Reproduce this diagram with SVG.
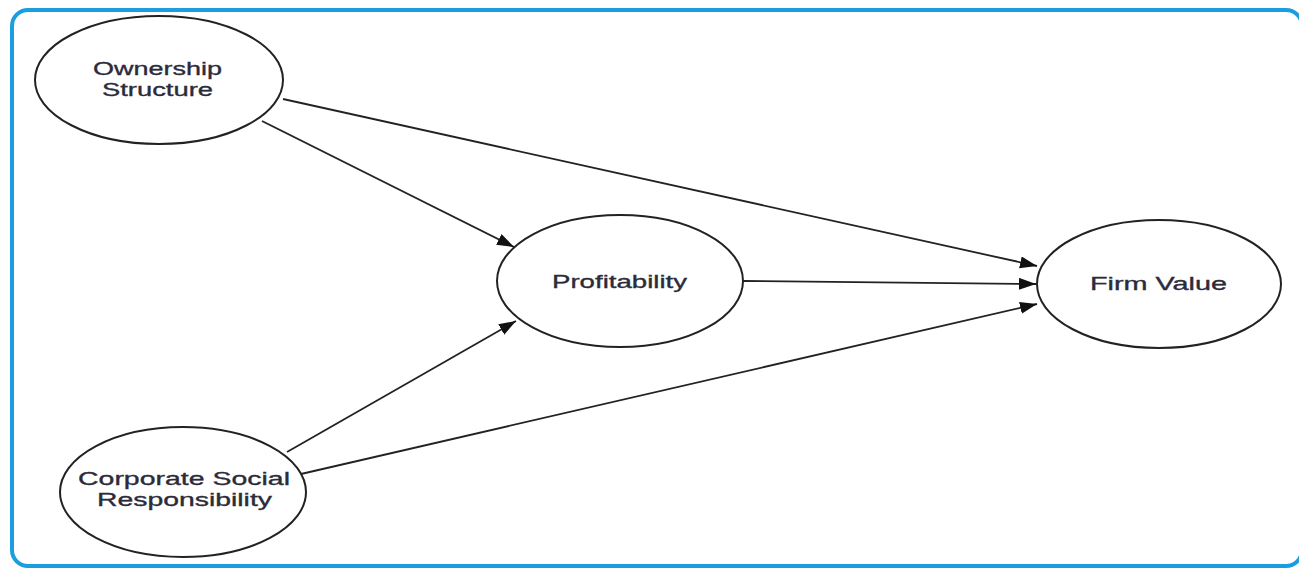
<svg xmlns="http://www.w3.org/2000/svg" width="1299" height="568" viewBox="0 0 1299 568">
<style>
.node ellipse{fill:#fff;stroke:#222;stroke-width:2}
.node text{font-family:"Liberation Sans",Arial,sans-serif;font-size:19px;fill:#2b2b3a;stroke:#2b2b3a;stroke-width:0.35;text-anchor:start}
.edges line{stroke:#222;stroke-width:1.8}
</style>
<defs>
<marker id="arr" markerUnits="userSpaceOnUse" markerWidth="20" markerHeight="14" refX="17" refY="6" orient="auto">
<path d="M0,0 L17,6 L0,12 Z" fill="#111"/>
</marker>
</defs>
<rect x="0" y="0" width="1299" height="568" fill="#fff"/>
<rect x="12" y="10" width="1290" height="556" rx="16" fill="none" stroke="#1a9ee0" stroke-width="4"/>
<g class="edges">
<line x1="283" y1="99" x2="1037" y2="266" marker-end="url(#arr)"/>
<line x1="262" y1="121" x2="514" y2="247" marker-end="url(#arr)"/>
<line x1="743" y1="281" x2="1036" y2="284" marker-end="url(#arr)"/>
<line x1="287" y1="452" x2="516" y2="321" marker-end="url(#arr)"/>
<line x1="301" y1="474" x2="1037" y2="304" marker-end="url(#arr)"/>
</g>
<g id="ownership" class="node">
<ellipse cx="159" cy="80" rx="124" ry="64"/>
<text x="93" y="75" textLength="129" lengthAdjust="spacingAndGlyphs">Ownership</text>
<text x="102" y="96" textLength="111" lengthAdjust="spacingAndGlyphs">Structure</text>
</g>
<g id="profitability" class="node">
<ellipse cx="620" cy="281" rx="123" ry="66"/>
<text x="552" y="288" textLength="135" lengthAdjust="spacingAndGlyphs">Profitability</text>
</g>
<g id="firmvalue" class="node">
<ellipse cx="1159" cy="284" rx="122" ry="64"/>
<text x="1090" y="290" textLength="137" lengthAdjust="spacingAndGlyphs">Firm Value</text>
</g>
<g id="csr" class="node">
<ellipse cx="183" cy="492" rx="123" ry="65"/>
<text x="78" y="485" textLength="212" lengthAdjust="spacingAndGlyphs">Corporate Social</text>
<text x="97" y="506" textLength="175" lengthAdjust="spacingAndGlyphs">Responsibility</text>
</g>
</svg>
